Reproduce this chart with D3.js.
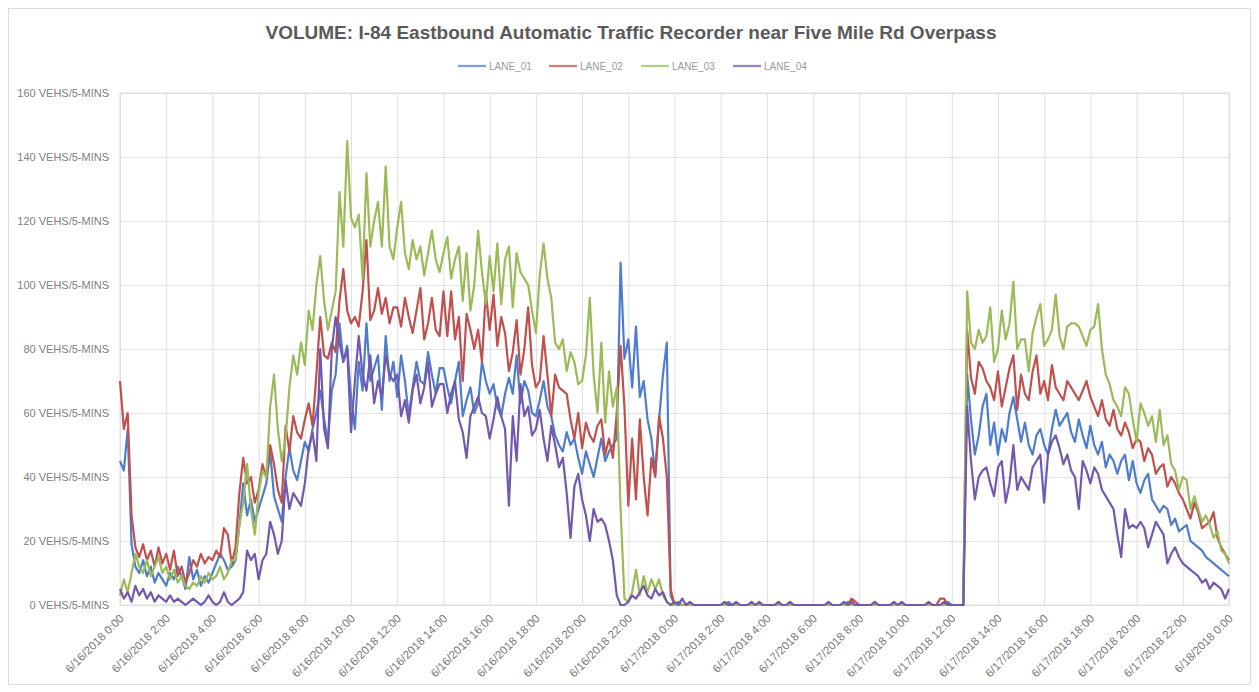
<!DOCTYPE html>
<html>
<head>
<meta charset="utf-8">
<script src="https://cdn.jsdelivr.net/npm/d3@7"></script>
<style>
  body { margin: 0; background: #fff; }
  text { font-family: "Liberation Sans", Arial, sans-serif; }
</style>
</head>
<body>
<svg id="chart"></svg>
<script>
const startTime = new Date(2018, 5, 16, 0, 0);
const endTime = new Date(2018, 5, 18, 0, 0);
const stepMinutes = 10;

const laneNames = ['LANE_01', 'LANE_02', 'LANE_03', 'LANE_04'];
const laneColors = ['#4f7ccc', '#c0504d', '#9bbb59', '#7359ad'];
const yTicks = [0, 20, 40, 60, 80, 100, 120, 140, 160];

const lane01 = [
  45, 42, 55, 19, 12, 10,  14, 9, 12, 7, 10, 8,  6, 10, 8, 12, 9, 5,  15, 8, 11, 6, 9, 7,
  10, 13, 16, 14, 11, 12,  14, 25, 38, 28, 33, 26,  30, 34, 38, 48, 34, 30,  26, 40, 49, 42, 39, 45,
  51, 48, 55, 60, 67, 58,  51, 67, 72, 88, 76, 81,  65, 55, 76, 67, 88, 70,  74, 78, 61, 84, 70, 76,
  65, 78, 70, 59, 68, 76,  70, 69, 79, 72, 66, 74,  74, 68, 63, 70, 76, 59,  64, 68, 60, 63, 76, 70,
  66, 69, 62, 59, 66, 71,  66, 78, 63, 70, 67, 60,  59, 64, 70, 62, 59, 53,  50, 48, 54, 50, 52, 46,
  41, 48, 44, 40, 46, 52,  45, 48, 50, 52, 107, 77,  83, 68, 87, 65, 70, 58,  52, 41, 58, 72, 82, 3,
  0, 1, 0, 0, 0, 0, 0, 0, 0, 0,  0, 0, 0, 0, 1, 0, 0, 0, 0, 0,  0, 0, 0, 0, 0, 0, 0, 0, 0, 0,
  0, 0, 0, 0, 0, 0, 0, 0, 0, 0,  0, 0, 0, 0, 0, 1, 0, 0, 0, 0,  0, 0, 0, 0, 0, 0, 0, 0, 0, 0,
  0, 0, 0, 0, 0, 0, 0, 0, 0, 0,  0, 1, 0, 0, 0, 0,
  72, 58, 47, 53, 62, 66, 50, 57, 47, 55,  51, 60, 65, 58, 51, 57, 50, 47, 53, 55,
  50, 47, 55, 61, 56, 58, 60, 54, 51, 58,  53, 49, 56, 50, 47, 51, 43, 47, 45, 41,
  45, 47, 39, 45, 38, 35, 39, 41, 33, 31,  29, 31, 30, 25, 27, 23, 24, 25, 20, 19,
  18, 17, 15, 14, 13, 12, 11, 10, 9
];

const lane02 = [
  70, 55, 60, 28, 18, 15,  19, 14, 17, 12, 18, 13,  16, 11, 17, 9, 12, 7,  10, 14, 12, 16, 13, 15,
  14, 17, 15, 24, 22, 13,  18, 35, 46, 38, 40, 32,  36, 44, 40, 50, 44, 36,  32, 56, 48, 59, 54, 52,
  58, 63, 56, 72, 90, 78,  77, 82, 79, 95, 105, 92,  88, 90, 87, 98, 114, 89,  92, 99, 91, 96, 88, 93,
  93, 87, 96, 90, 85, 92,  99, 83, 88, 96, 86, 84,  98, 84, 98, 83, 90, 70,  91, 86, 80, 86, 76, 98,
  86, 97, 81, 90, 85, 73,  79, 89, 72, 80, 93, 75,  68, 70, 84, 72, 59, 72,  68, 67, 66, 58, 52, 60,
  49, 57, 53, 51, 56, 58,  47, 52, 46, 60, 81, 62,  31, 52, 33, 58, 40, 28,  46, 40, 59, 52, 40, 5,
  0, 0, 0, 0, 0, 0, 0, 0, 0, 0,  0, 0, 0, 0, 0, 0, 0, 0, 0, 0,  0, 0, 0, 0, 0, 0, 0, 0, 0, 0,
  0, 0, 0, 0, 0, 0, 0, 0, 0, 0,  0, 0, 0, 0, 0, 0, 2, 1, 0, 0,  0, 0, 0, 0, 0, 0, 0, 0, 0, 0,
  0, 0, 0, 0, 0, 0, 0, 0, 0, 2,  2, 0, 0, 0, 0, 0,
  86, 71, 66, 76, 74, 70, 68, 64, 73, 62,  68, 74, 78, 61, 72, 66, 64, 73, 78, 66,
  70, 64, 75, 68, 66, 64, 70, 68, 66, 64,  67, 70, 65, 62, 59, 64, 58, 56, 61, 55,
  53, 57, 54, 49, 52, 51, 45, 49, 47, 41,  43, 44, 37, 40, 38, 35, 33, 30, 27, 32,
  29, 24, 25, 26, 29, 21, 18, 16, 14
];

const lane03 = [
  3, 8, 4, 10, 16, 12,  10, 14, 9, 12, 15, 10,  12, 8, 11, 7, 9, 6,  5, 7, 6, 9, 7, 10,
  8, 9, 12, 8, 10, 14,  14, 25, 32, 44, 30, 22,  35, 42, 40, 62, 72, 55,  45, 52, 68, 78, 72, 82,
  75, 92, 86, 100, 109, 95,  86, 92, 98, 129, 112, 145,  121, 118, 122, 102, 135, 112,  120, 126, 112, 137, 112, 108,
  118, 126, 110, 105, 114, 108,  112, 103, 110, 117, 108, 104,  110, 115, 102, 108, 112, 95,  110, 92, 100, 117, 104, 94,
  109, 98, 113, 94, 108, 112,  93, 110, 104, 102, 100, 92,  85, 103, 113, 102, 96, 82,  80, 83, 73, 79, 76, 69,
  70, 78, 96, 72, 60, 82,  57, 73, 62, 68, 30, 2,  1, 4, 11, 3, 9, 4,  8, 5, 8, 3, 1, 0,
  0, 0, 0, 0, 0, 0, 0, 0, 0, 0,  0, 0, 0, 0, 0, 0, 0, 0, 0, 0,  0, 0, 0, 0, 0, 0, 0, 0, 0, 0,
  0, 0, 0, 0, 0, 0, 0, 0, 0, 0,  0, 0, 0, 0, 0, 0, 0, 0, 0, 0,  0, 0, 0, 0, 0, 0, 0, 0, 0, 0,
  0, 0, 0, 0, 0, 0, 0, 0, 0, 0,  0, 0, 0, 0, 0, 0,
  98, 82, 80, 86, 82, 84, 93, 76, 80, 92,  83, 88, 101, 80, 83, 83, 73, 85, 90, 94,
  81, 83, 86, 97, 84, 80, 87, 88, 88, 87,  84, 81, 86, 87, 94, 80, 72, 69, 64, 62,
  59, 68, 66, 58, 51, 63, 60, 56, 59, 51,  61, 50, 53, 44, 42, 36, 40, 39, 30, 34,
  30, 26, 28, 25, 21, 23, 17, 16, 13
];

const lane04 = [
  5, 2, 4, 1, 6, 3,  5, 2, 4, 1, 3, 2,  1, 3, 1, 2, 1, 0,  1, 2, 1, 0, 1, 3,
  1, 0, 1, 4, 1, 0,  1, 2, 4, 17, 14, 16,  8, 14, 16, 26, 22, 16,  20, 39, 30, 35, 33, 31,
  38, 49, 54, 45, 80, 55,  49, 80, 90, 82, 76, 80,  54, 70, 84, 72, 67, 78,  63, 70, 65, 78, 72, 70,
  72, 59, 64, 57, 67, 72,  63, 68, 76, 62, 66, 69,  69, 60, 66, 70, 58, 54,  46, 59, 62, 65, 60, 59,
  52, 58, 65, 59, 55, 31,  59, 45, 69, 59, 62, 53,  55, 61, 52, 45, 56, 50,  43, 46, 35, 21, 37, 41,
  33, 28, 20, 30, 26, 27,  25, 20, 14, 3, 0, 0,  1, 3, 2, 4, 6, 3,  2, 5, 3, 4, 1, 0,
  1, 0, 2, 0, 1, 0, 0, 0, 0, 0,  0, 0, 0, 1, 0, 0, 1, 0, 0, 0,  1, 0, 1, 0, 0, 0, 0, 1, 0, 0,
  1, 0, 0, 0, 0, 0, 0, 0, 0, 0,  1, 0, 0, 0, 1, 0, 1, 0, 0, 0,  0, 0, 1, 0, 0, 0, 0, 1, 0, 1,
  0, 0, 0, 0, 0, 0, 1, 0, 0, 0,  1, 0, 0, 0, 0, 0,
  62, 45, 33, 40, 42, 43, 38, 34, 43, 45,  32, 38, 50, 36, 40, 38, 36, 43, 45, 47,
  32, 47, 51, 53, 49, 44, 47, 42, 40, 30,  45, 42, 38, 43, 41, 36, 34, 32, 30, 22,
  15, 30, 24, 25, 24, 26, 24, 18, 22, 26,  24, 22, 13, 16, 18, 15, 13, 12, 11, 10,
  9, 7, 8, 5, 7, 6, 5, 2, 5
];

class TrafficChart {

  constructor(_config, _data) {
    this.config = {
      parentElement: _config.parentElement,
      containerWidth: _config.containerWidth || 1259,
      containerHeight: _config.containerHeight || 692,
      margin: _config.margin || {top: 93, right: 30, bottom: 87, left: 120}
    };
    this.data = _data;
    this.initVis();
  }

  initVis() {
    let vis = this;

    vis.width = vis.config.containerWidth - vis.config.margin.left - vis.config.margin.right;
    vis.height = vis.config.containerHeight - vis.config.margin.top - vis.config.margin.bottom;

    vis.svg = d3.select(vis.config.parentElement)
        .attr('width', vis.config.containerWidth)
        .attr('height', vis.config.containerHeight);

    // outer frame of the chart
    vis.svg.append('rect')
        .attr('x', 8.5).attr('y', 8.5)
        .attr('width', vis.config.containerWidth - 17)
        .attr('height', vis.config.containerHeight - 16)
        .attr('fill', 'none')
        .attr('stroke', '#dcdcdc');

    vis.svg.append('text')
        .attr('x', 631).attr('y', 39)
        .attr('text-anchor', 'middle')
        .attr('font-size', 19)
        .attr('font-weight', 'bold')
        .attr('fill', '#5a5a5a')
        .text('VOLUME: I-84 Eastbound Automatic Traffic Recorder near Five Mile Rd Overpass');

    vis.chart = vis.svg.append('g')
        .attr('transform', `translate(${vis.config.margin.left},${vis.config.margin.top})`);

    vis.xScale = d3.scaleTime()
        .domain([startTime, endTime])
        .range([0, vis.width]);

    vis.yScale = d3.scaleLinear()
        .domain([0, 160])
        .range([vis.height, 0]);

    vis.colorScale = d3.scaleOrdinal()
        .domain(laneNames)
        .range(laneColors);

    // gridlines via axes
    vis.yAxis = d3.axisLeft(vis.yScale)
        .tickValues(yTicks)
        .tickSize(-vis.width)
        .tickPadding(11)
        .tickFormat(d => d + ' VEHS/5-MINS');

    vis.xAxis = d3.axisBottom(vis.xScale)
        .ticks(d3.timeHour.every(2))
        .tickSize(-vis.height)
        .tickFormat(d3.timeFormat('%-m/%-d/%Y %-H:%M'));

    vis.line = d3.line()
        .x(d => vis.xScale(d.date))
        .y(d => vis.yScale(d.value));

    vis.updateVis();
  }

  updateVis() {
    let vis = this;
    vis.series = laneNames.map((name, k) => ({
      name: name,
      values: vis.data[k].map((v, i) => ({
        date: d3.timeMinute.offset(startTime, i * stepMinutes),
        value: v
      }))
    }));
    vis.renderVis();
  }

  renderVis() {
    let vis = this;

    const yAxisG = vis.chart.append('g').call(vis.yAxis);
    yAxisG.select('.domain').remove();
    yAxisG.selectAll('.tick line').attr('stroke', '#e0e0e0');
    yAxisG.selectAll('.tick text')
        .attr('font-size', 11)
        .attr('fill', '#808080')
        .attr('font-family', '"Liberation Sans", Arial, sans-serif');

    const xAxisG = vis.chart.append('g')
        .attr('transform', `translate(0,${vis.height})`)
        .call(vis.xAxis);
    xAxisG.select('.domain').remove();
    xAxisG.selectAll('.tick line').attr('stroke', '#e0e0e0');
    xAxisG.selectAll('.tick text')
        .attr('font-size', 11.5)
        .attr('fill', '#777')
        .attr('font-family', '"Liberation Sans", Arial, sans-serif')
        .attr('text-anchor', 'end')
        .attr('dx', 0).attr('dy', 0)
        .attr('transform', 'translate(2,12) rotate(-45)');

    // plot frame
    vis.chart.append('rect')
        .attr('width', vis.width).attr('height', vis.height)
        .attr('fill', 'none')
        .attr('stroke', '#dedede');

    vis.chart.selectAll('.lane-line')
        .data(vis.series)
        .join('path')
        .attr('class', 'lane-line')
        .attr('fill', 'none')
        .attr('stroke', d => vis.colorScale(d.name))
        .attr('stroke-width', 2.2)
        .attr('stroke-linejoin', 'round')
        .attr('d', d => vis.line(d.values));

    // legend
    const legendX = [458, 549, 641, 733];
    const legend = vis.svg.append('g').attr('transform', 'translate(0,66)');
    const items = legend.selectAll('g')
        .data(laneNames)
        .join('g')
        .attr('transform', (d, i) => `translate(${legendX[i]},0)`);
    items.append('line')
        .attr('x1', 0).attr('x2', 28)
        .attr('stroke', d => vis.colorScale(d))
        .attr('stroke-opacity', 0.75)
        .attr('stroke-width', 2.2);
    items.append('text')
        .attr('x', 31).attr('y', 3.5)
        .attr('font-size', 10)
        .attr('fill', '#9a9a9a')
        .text(d => d);
  }
}

const chart = new TrafficChart({ parentElement: '#chart' }, [lane01, lane02, lane03, lane04]);
</script>
</body>
</html>
